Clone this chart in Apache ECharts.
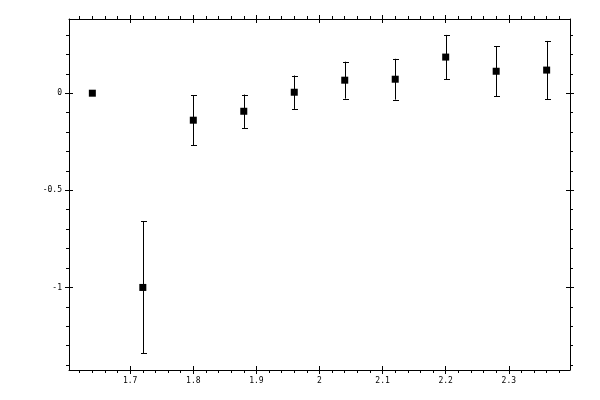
<!DOCTYPE html>
<html>
<head>
<meta charset="utf-8">
<script src="https://cdn.jsdelivr.net/npm/echarts@6/dist/echarts.min.js"></script>
<style>html,body{margin:0;padding:0;background:#fff}#c{width:600px;height:400px}</style>
</head>
<body>
<div id="c"></div>
<script>
var xValues = [1.64, 1.72, 1.80, 1.88, 1.96, 2.04, 2.12, 2.20, 2.28, 2.36];
var yValues = [0, -1.0, -0.139, -0.093, 0.005, 0.067, 0.072, 0.186, 0.113, 0.119];
var yErrors = [0, 0.34, 0.128, 0.086, 0.086, 0.095, 0.105, 0.114, 0.128, 0.15];

var xMajorTicks = [1.7, 1.8, 1.9, 2.0, 2.1, 2.2, 2.3];
var xMinorTicks = [1.62, 1.64, 1.66, 1.68, 1.72, 1.74, 1.76, 1.78, 1.82, 1.84, 1.86, 1.88,
  1.92, 1.94, 1.96, 1.98, 2.02, 2.04, 2.06, 2.08, 2.12, 2.14, 2.16, 2.18,
  2.22, 2.24, 2.26, 2.28, 2.32, 2.34, 2.36, 2.38];
var yMajorTicks = [-1, -0.5, 0];
var yMinorTicks = [-1.4, -1.3, -1.2, -1.1, -0.9, -0.8, -0.7, -0.6, -0.4, -0.3, -0.2, -0.1, 0.1, 0.2, 0.3];

var xMin = 1.603, xMax = 2.397;
var yMin = -1.425, yMax = 0.382;

var chart = echarts.init(document.getElementById('c'), null, {renderer: 'canvas'});
var black = '#000';
var lblFont = {color: black, fontFamily: 'DejaVu Sans Mono', fontSize: 8};

function mkAxis(pos, min, max, opts) {
  var a = {
    type: 'value', position: pos, min: min, max: max,
    splitLine: {show: false},
    axisLine: {show: !!opts.line, onZero: false, lineStyle: {color: black, width: 1}},
    axisTick: {show: !!opts.ticks, customValues: opts.ticks, inside: !!opts.inside, length: opts.len || 4,
      lineStyle: {color: black, width: 1}},
    axisLabel: opts.labels ? Object.assign({show: true, customValues: opts.labels, margin: 7,
      formatter: function (v) { return String(Math.round(v * 1000) / 1000); }}, lblFont) : {show: false},
    silent: true
  };
  return a;
}

var xAxes = [
  mkAxis('bottom', xMin, xMax, {line: true, ticks: xMajorTicks, labels: xMajorTicks, len: 4}),
  mkAxis('bottom', xMin, xMax, {ticks: xMajorTicks, inside: true, len: 4}),
  mkAxis('bottom', xMin, xMax, {ticks: xMinorTicks, len: 3}),
  mkAxis('top', xMin, xMax, {line: true, ticks: xMajorTicks, len: 4}),
  mkAxis('top', xMin, xMax, {ticks: xMajorTicks, inside: true, len: 4}),
  mkAxis('top', xMin, xMax, {ticks: xMinorTicks, len: 3})
];
var yAxes = [
  mkAxis('left', yMin, yMax, {line: true, ticks: yMajorTicks, labels: yMajorTicks, len: 4}),
  mkAxis('left', yMin, yMax, {ticks: yMajorTicks, inside: true, len: 4}),
  mkAxis('left', yMin, yMax, {ticks: yMinorTicks, len: 3}),
  mkAxis('right', yMin, yMax, {line: true, ticks: yMajorTicks, len: 4}),
  mkAxis('right', yMin, yMax, {ticks: yMajorTicks, inside: true, len: 4}),
  mkAxis('right', yMin, yMax, {ticks: yMinorTicks, len: 3})
];

var pts = xValues.map(function (x, i) { return [x, yValues[i]]; });
var errs = xValues.map(function (x, i) { return [x, yValues[i] - yErrors[i], yValues[i] + yErrors[i], yErrors[i]]; });

chart.setOption({
  animation: false,
  backgroundColor: '#fff',
  grid: {left: 69, right: 30, top: 19, bottom: 30, containLabel: false},
  xAxis: xAxes,
  yAxis: yAxes,
  series: [
    {
      type: 'custom',
      xAxisIndex: 0, yAxisIndex: 0,
      data: errs,
      renderItem: function (params, api) {
        if (api.value(3) <= 0) return null;
        var lo = api.coord([api.value(0), api.value(1)]);
        var hi = api.coord([api.value(0), api.value(2)]);
        var x = Math.round(lo[0]) + 0.5;
        var w = 2.5;
        var st = {stroke: black, lineWidth: 1};
        return {
          type: 'group',
          children: [
            {type: 'line', shape: {x1: x, y1: lo[1], x2: x, y2: hi[1]}, style: st},
            {type: 'line', shape: {x1: x - w, y1: Math.round(lo[1]) + 0.5, x2: x + w + 1, y2: Math.round(lo[1]) + 0.5}, style: st},
            {type: 'line', shape: {x1: x - w, y1: Math.round(hi[1]) + 0.5, x2: x + w + 1, y2: Math.round(hi[1]) + 0.5}, style: st}
          ]
        };
      },
      z: 2
    },
    {
      type: 'scatter',
      xAxisIndex: 0, yAxisIndex: 0,
      data: pts,
      symbol: 'rect',
      symbolSize: 7,
      itemStyle: {color: black, opacity: 1},
      emphasis: {disabled: true},
      z: 3
    }
  ]
});
</script>
</body>
</html>
